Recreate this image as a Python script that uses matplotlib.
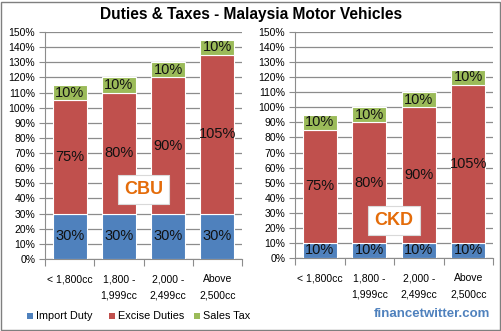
import numpy as np
import matplotlib.pyplot as plt
from matplotlib.patches import Rectangle
from matplotlib.ticker import FixedLocator, NullFormatter

plt.rcParams['font.family'] = ['Liberation Sans', 'DejaVu Sans']

categories = ["< 1,800cc", "1,800 -\n1,999cc", "2,000 -\n2,499cc", "Above\n2,500cc"]
cbu_import = [30, 30, 30, 30]
cbu_excise = [75, 80, 90, 105]
cbu_sales = [10, 10, 10, 10]
ckd_import = [10, 10, 10, 10]
ckd_excise = [75, 80, 90, 105]
ckd_sales = [10, 10, 10, 10]
yticks = list(range(0, 151, 10))

BLUE = "#4F81BD"
RED = "#C0504D"
GREEN = "#9BBB59"
GRID = "#8C8C8C"

W, H = 502, 331
fig = plt.figure(figsize=(W / 100, H / 100), dpi=100)


def px_axes(x0, y0, x1, y1):
    return fig.add_axes([x0 / W, 1 - y1 / H, (x1 - x0) / W, (y1 - y0) / H])


def draw_panel(ax, imp, exc, sal, tag, tag_xy):
    x = np.arange(len(categories))
    w = 0.69
    b1 = ax.bar(x, imp, w, color=BLUE, edgecolor="white", linewidth=0.8, zorder=3)
    b2 = ax.bar(x, exc, w, bottom=imp, color=RED, edgecolor="white", linewidth=0.8, zorder=3)
    bottom2 = [a + b for a, b in zip(imp, exc)]
    b3 = ax.bar(x, sal, w, bottom=bottom2, color=GREEN, edgecolor="white", linewidth=0.8, zorder=3)
    for bars in (b1, b2, b3):
        ax.bar_label(bars, labels=[f"{int(v)}%" for v in bars.datavalues],
                     label_type="center", fontsize=10.5, color="#111111", zorder=4)
    ax.set_xlim(-0.5, len(categories) - 0.5)
    ax.set_ylim(0, 150)
    ax.yaxis.set_major_locator(FixedLocator(yticks))
    ax.set_yticklabels([f"{v}%" for v in yticks], fontsize=7.5)
    ax.yaxis.grid(True, color=GRID, linewidth=0.9, zorder=0)
    ax.tick_params(axis="y", length=4, color=GRID, pad=3)
    ax.set_xticks(np.arange(-0.5, len(categories), 1.0))
    ax.xaxis.set_major_formatter(NullFormatter())
    ax.set_xticks(x, minor=True)
    ax.set_xticklabels(categories, minor=True, fontsize=7.5, linespacing=1.75)
    ax.tick_params(axis="x", which="major", length=5, color=GRID)
    ax.tick_params(axis="x", which="minor", length=0, pad=11)
    for s in ("top", "right"):
        ax.spines[s].set_visible(False)
    for s in ("left", "bottom"):
        ax.spines[s].set_color(GRID)
    ax.text(tag_xy[0], tag_xy[1], tag, transform=ax.transData, ha="center", va="center",
            fontsize=13, fontweight="bold", color="#E46C0A", zorder=5,
            bbox=dict(boxstyle="square,pad=0.35", facecolor="white", edgecolor="#D9D9D9", linewidth=0.8))


ax1 = px_axes(45, 32, 242, 259)
draw_panel(ax1, cbu_import, cbu_excise, cbu_sales, "CBU", (1.5, 46))

ax2 = px_axes(295, 32, 493, 258)
draw_panel(ax2, ckd_import, ckd_excise, ckd_sales, "CKD", (1.5, 25))

fig.text(0.5, 1 - 14 / H, "Duties & Taxes - Malaysia Motor Vehicles", ha="center", va="center",
         fontsize=11.2, fontweight="bold")

# legend
leg_items = [("Import Duty", BLUE, 27), ("Excise Duties", RED, 109), ("Sales Tax", GREEN, 194)]
for label, color, xp in leg_items:
    fig.patches.append(Rectangle((xp / W, 1 - 319 / H), 6 / W, 6 / H, transform=fig.transFigure,
                                 facecolor=color, edgecolor="none"))
    fig.text((xp + 9) / W, 1 - 316 / H, label, ha="left", va="center", fontsize=7.8)

fig.text(490 / W, 1 - 314 / H, "financetwitter.com", ha="right", va="center",
         fontsize=9.5, fontweight="bold", color="#4F81BD")

fig.patches.append(Rectangle((1.5 / W, 1.5 / H), (W - 3) / W, (H - 3) / H, transform=fig.transFigure,
                             facecolor="none", edgecolor="#7F7F7F", linewidth=1.0))

fig.savefig("out.png", dpi=100)
